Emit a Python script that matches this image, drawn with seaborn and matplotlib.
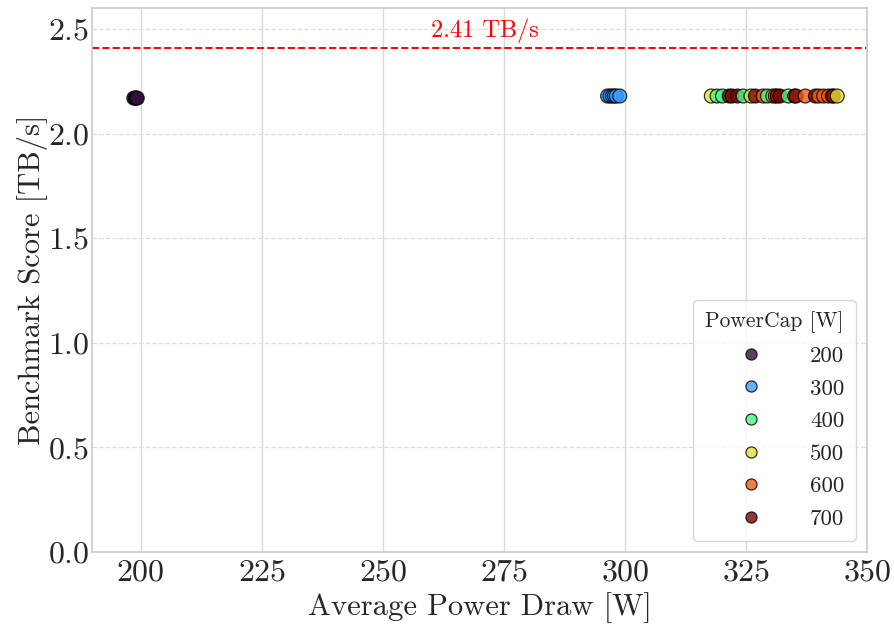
import matplotlib
matplotlib.use("Agg")
import matplotlib.pyplot as plt
import seaborn as sns
import pandas as pd
import numpy as np

# ---- data ----
caps = [200, 300, 400, 500, 600, 700]
power_200 = [198.6, 198.9, 199.1, 199.3]
score_200 = [2.17, 2.17, 2.17, 2.17]
power_300 = [296.4, 296.9, 297.4, 297.8, 298.2, 298.9]
score_300 = [2.18, 2.18, 2.18, 2.18, 2.18, 2.18]
power_400 = [319.0, 320.1, 324.4, 329.4, 333.7]
score_400 = [2.18, 2.18, 2.18, 2.18, 2.18]
power_500 = [317.8, 326.0, 330.5, 343.8]
score_500 = [2.18, 2.18, 2.18, 2.18]
power_600 = [328.5, 331.0, 335.0, 337.2, 340.0, 341.0, 342.0, 342.8]
score_600 = [2.18, 2.18, 2.18, 2.18, 2.18, 2.18, 2.18, 2.18]
power_700 = [321.5, 322.1, 323.2, 326.9, 331.4, 332.0, 335.3, 339.3, 343.0]
score_700 = [2.18, 2.18, 2.18, 2.18, 2.18, 2.18, 2.18, 2.18, 2.18]
peak_value = 2.41
peak_label = "2.41 TB/s"

rows = []
for cap, px, sy in zip(caps,
                       [power_200, power_300, power_400, power_500, power_600, power_700],
                       [score_200, score_300, score_400, score_500, score_600, score_700]):
    for p, s in zip(px, sy):
        rows.append({"power": p, "score": s, "cap": cap})
df = pd.DataFrame(rows).sort_values("power", kind="stable")

sns.set_theme(style="whitegrid")
plt.rcParams["font.family"] = ["cmr10", "DejaVu Serif"]
plt.rcParams["axes.formatter.use_mathtext"] = True
plt.rcParams["mathtext.fontset"] = "cm"

fig = plt.figure(figsize=(8.95, 6.28), dpi=100)
ax = fig.add_axes([0.103, 0.121, 0.866, 0.866])

cmap = matplotlib.colormaps["turbo"]
palette = [cmap(v) for v in np.linspace(0, 1, len(caps))]
sns.scatterplot(data=df, x="power", y="score", hue="cap", hue_order=caps,
                palette=palette, s=100, edgecolor="black", linewidth=0.9,
                alpha=0.8, ax=ax, legend=True)

ax.axhline(peak_value, color="red", linestyle="--", linewidth=1.4)
ax.text(271, peak_value + 0.025, peak_label, color="red", fontsize=17.5,
        ha="center", va="bottom")

ax.set_xlim(190, 350)
ax.set_ylim(0, 2.6)
ax.set_xticks([200, 225, 250, 275, 300, 325, 350])
ax.set_yticks([0.0, 0.5, 1.0, 1.5, 2.0, 2.5])
ax.tick_params(axis="x", labelsize=23, length=0, pad=5)
ax.tick_params(axis="y", labelsize=23, length=0, pad=2)
ax.set_xlabel("Average Power Draw [W]", fontsize=22, labelpad=4)
ax.set_ylabel("Benchmark Score [TB/s]", fontsize=22, labelpad=0)

ax.grid(axis="x", color="#d9d9d9", linestyle="-", linewidth=1)
ax.grid(axis="y", color="#dddddd", linestyle="--", linewidth=0.9)
for sp in ax.spines.values():
    sp.set_color("#cccccc")

leg = ax.legend(title="PowerCap [W]", loc="lower right", fontsize=16.5,
                title_fontsize=15.5, markerscale=0.8, frameon=True,
                borderpad=0.5, labelspacing=0.55, handlelength=4.0,
                handletextpad=0.6)
leg.get_frame().set_edgecolor("#cccccc")

fig.savefig("out.png", dpi=100)
